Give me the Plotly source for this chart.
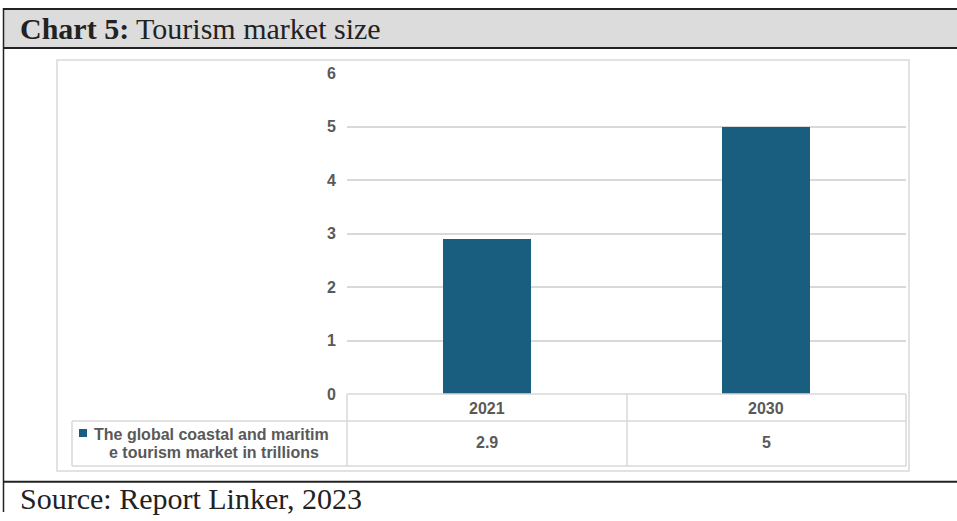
import plotly.graph_objects as go

W, H = 957, 521

categories = ["2021", "2030"]
market_values = [2.9, 5]
series_name_lines = ["The global coastal and maritim", "e tourism market in trillions"]
title_bold = "Chart 5:"
title_rest = " Tourism market size"
source_text = "Source: Report Linker, 2023"
y_ticks = [0, 1, 2, 3, 4, 5, 6]

BAR = "#1a5e7f"
TXT = "#595959"
GRID = "#d9d9d9"
DARK = "#222222"

# The page body keeps an 8px margin, so the captured page is (H+16) tall and is
# fitted back into H; map the wanted picture rows onto figure rows accordingly.
PAGE_MARGIN = 8


def px(x):
    return x / W


def py(y):
    yf = y * (H + 2 * PAGE_MARGIN) / H - PAGE_MARGIN
    yf = min(max(yf, 0), H)
    return 1 - yf / H


fig = go.Figure()
fig.add_trace(go.Bar(
    x=categories, y=market_values, marker=dict(color=BAR, line=dict(width=0)),
    width=0.315, showlegend=False, hoverinfo="x+y",
))

shapes = []
shapes.append(dict(type="rect", xref="paper", yref="paper", x0=px(3), x1=1, y0=py(48), y1=py(6),
                   fillcolor="#dcdcdc", line=dict(width=0), layer="below"))
shapes.append(dict(type="line", xref="paper", yref="paper", x0=px(3), x1=1, y0=py(6) - 1 / H, y1=py(6) - 1 / H,
                   line=dict(color=DARK, width=2)))
shapes.append(dict(type="line", xref="paper", yref="paper", x0=px(3), x1=1, y0=py(48), y1=py(48),
                   line=dict(color=DARK, width=2)))
shapes.append(dict(type="line", xref="paper", yref="paper", x0=px(3.5), x1=px(3.5), y0=py(6), y1=0,
                   line=dict(color=DARK, width=1.5)))
shapes.append(dict(type="line", xref="paper", yref="paper", x0=px(3), x1=1, y0=py(483), y1=py(483),
                   line=dict(color=DARK, width=2)))
shapes.append(dict(type="rect", xref="paper", yref="paper", x0=px(57), x1=px(909), y0=py(472), y1=py(60),
                   line=dict(color="#d9d9d9", width=1.5), layer="below"))
tl = dict(color=GRID, width=1.5)
shapes.append(dict(type="line", xref="paper", yref="paper", x0=px(347), x1=px(906), y0=py(395), y1=py(395), line=tl))
shapes.append(dict(type="line", xref="paper", yref="paper", x0=px(72), x1=px(906), y0=py(422), y1=py(422), line=tl))
shapes.append(dict(type="line", xref="paper", yref="paper", x0=px(72), x1=px(906), y0=py(467), y1=py(467), line=tl))
for xv in [347, 627, 906]:
    shapes.append(dict(type="line", xref="paper", yref="paper", x0=px(xv), x1=px(xv), y0=py(467), y1=py(395), line=tl))
shapes.append(dict(type="line", xref="paper", yref="paper", x0=px(72), x1=px(72), y0=py(467), y1=py(422), line=tl))
shapes.append(dict(type="rect", xref="paper", yref="paper", x0=px(79), x1=px(87), y0=py(438), y1=py(430),
                   fillcolor=BAR, line=dict(width=0)))

annotations = []
annotations.append(dict(xref="paper", yref="paper", x=px(18), y=py(28), xanchor="left", yanchor="middle",
                        showarrow=False, text=f"<b>{title_bold}</b>{title_rest}",
                        font=dict(family="Liberation Serif", size=30, color=DARK)))
annotations.append(dict(xref="paper", yref="paper", x=px(18), y=py(500), xanchor="left", yanchor="middle",
                        showarrow=False, text=source_text,
                        font=dict(family="Liberation Serif", size=30, color=DARK)))
cell_font = dict(family="Arial, Liberation Sans", size=16, color=TXT)
for i, (c, v) in enumerate(zip(categories, market_values)):
    annotations.append(dict(xref="x", yref="paper", x=i, y=py(409), showarrow=False, yanchor="middle",
                            text=f"<b>{c}</b>", font=cell_font))
    annotations.append(dict(xref="x", yref="paper", x=i, y=py(444), showarrow=False, yanchor="middle",
                            text=f"<b>{v:g}</b>", font=cell_font))
legend_font = dict(family="Arial, Liberation Sans", size=16, color=TXT)
annotations.append(dict(xref="paper", yref="paper", x=px(92), y=py(436), xanchor="left", yanchor="middle",
                        showarrow=False, text=f"<b>{series_name_lines[0]}</b>", font=legend_font))
annotations.append(dict(xref="paper", yref="paper", x=px(214), y=py(454), xanchor="center", yanchor="middle",
                        showarrow=False, text=f"<b>{series_name_lines[1]}</b>", font=legend_font))

fig.update_layout(
    width=W, height=H, margin=dict(l=0, r=0, t=0, b=0),
    paper_bgcolor="white", plot_bgcolor="white",
    shapes=shapes, annotations=annotations, bargap=0,
    xaxis=dict(type="category", domain=[px(347), px(906)], range=[-0.5, 1.5], showticklabels=False,
               showgrid=False, zeroline=False, showline=False, ticks="", fixedrange=True),
    yaxis=dict(domain=[py(395), py(73)], range=[0, 6], tickvals=y_ticks,
               ticktext=[f"<b>{t}</b>" for t in y_ticks], showgrid=True, gridcolor=GRID, gridwidth=1.5,
               zeroline=False, showline=False, ticks="", ticklabelstandoff=10,
               tickfont=dict(family="Arial, Liberation Sans", size=16, color=TXT), fixedrange=True),
)

fig.write_html("out.html", config={"displayModeBar": False})
